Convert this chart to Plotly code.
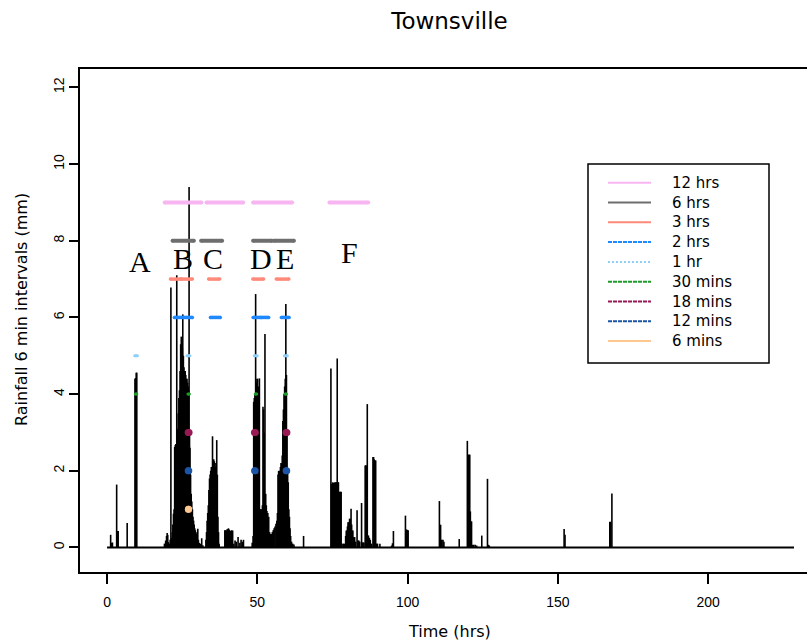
import plotly.graph_objects as go

# ---------------------------------------------------------------------------
# Townsville pluviograph record: 6-minute rainfall totals (non-zero intervals)
# ---------------------------------------------------------------------------
hours = [
    # storm A
    1.2, 1.5, 1.8, 3.2, 3.5, 3.7, 6.7, 9.3, 9.5, 9.7, 9.9,
    # storm B
    19.1, 19.5, 19.8, 20.0, 20.2, 20.4, 20.7, 21.0, 21.25, 21.5, 21.7, 21.9,
    22.1, 22.3, 22.5, 22.7, 22.9, 23.2, 23.35, 23.5, 23.7, 23.9, 24.1, 24.3,
    24.5, 24.7, 24.9, 25.05, 25.2, 25.4, 25.6, 25.8, 26.0, 26.2, 26.4, 26.6,
    26.8, 27.0, 27.15, 27.3, 27.45, 27.6, 27.8, 28.0, 28.2, 28.4, 28.6, 28.8,
    29.0, 29.2, 29.4, 29.6, 29.8, 30.0, 30.2, 30.4, 30.7, 31.0, 31.5, 31.9,
    # storm C
    32.9, 33.1, 33.3, 33.5, 33.7, 33.9, 34.1, 34.3, 34.5, 34.7, 34.9, 35.1,
    35.3, 35.5, 35.7, 35.9, 36.1, 36.3, 36.5, 36.7, 36.9, 37.1, 37.3,
    # showers between C and D
    39.2, 39.4, 39.6, 39.8, 40.0, 40.2, 40.4, 40.6, 40.8, 41.0, 41.2, 41.5,
    41.8, 42.2, 42.6, 43.0, 43.6, 44.2, 44.6, 45.0, 45.4,
    # storm D
    48.3, 48.6, 48.8, 49.0, 49.2, 49.45, 49.7, 49.9, 50.1, 50.3, 50.5, 50.7,
    50.9, 51.1, 51.3, 51.5, 51.7, 51.9, 52.1, 52.3, 52.55, 52.8, 53.0, 53.2,
    53.5, 53.8, 54.1, 54.4, 54.7, 55.0, 55.3, 55.6, 55.9, 56.2,
    # storm E
    56.5, 56.7, 56.9, 57.1, 57.3, 57.5, 57.7, 57.9, 58.1, 58.3, 58.5, 58.7,
    58.9, 59.1, 59.3, 59.5, 59.7, 59.9, 60.1, 60.3, 60.5, 60.7, 60.9, 61.1,
    61.4, 61.8, 62.2, 65.4,
    # storm F
    74.5, 74.7, 74.9, 75.1, 75.3, 75.5, 75.7, 75.9, 76.1, 76.3, 76.6, 76.8,
    77.0, 77.3, 77.5, 77.7, 77.9, 78.2, 78.6, 79.0, 79.4, 79.6, 79.8, 80.0,
    80.2, 80.4, 80.7, 80.9, 81.2, 81.4, 81.6, 81.8, 82.1, 82.4, 82.7, 83.2,
    83.5, 83.8, 84.1, 84.7, 84.9, 85.2, 85.5, 85.9, 86.1, 86.3, 86.6, 86.8,
    87.0, 87.3, 87.6, 88.0, 88.5, 88.7, 88.9, 89.2, 89.4, 89.7, 90.0, 90.8,
    # later showers
    94.7, 95.0, 95.3, 99.3, 99.6, 99.9, 100.2, 110.6, 110.8, 111.0, 111.4,
    111.8, 112.1, 117.2, 119.9, 120.1, 120.3, 120.5, 120.7, 120.9, 121.1,
    121.3, 121.6, 122.0, 122.5, 123.0, 124.7, 126.6, 126.9, 127.2, 152.1,
    152.4, 167.3, 167.6, 168.0,
]

rain_mm = [
    # storm A
    0.33, 0.12, 0.13, 1.64, 0.43, 0.43, 0.64, 4.40, 4.42, 4.56, 4.56,
    # storm B
    0.10, 0.18, 0.30, 0.38, 0.33, 0.14, 0.10, 0.20, 6.78, 0.25, 0.40, 0.60,
    0.88, 1.00, 2.62, 2.67, 2.70, 7.10, 2.75, 3.10, 3.50, 3.90, 4.10, 4.60,
    5.30, 5.50, 5.40, 5.20, 6.08, 5.00, 4.70, 4.60, 4.60, 4.50, 4.40, 4.40,
    4.30, 4.20, 4.10, 9.40, 3.00, 2.60, 1.90, 1.40, 1.20, 1.00, 0.80, 0.70,
    0.60, 0.50, 0.45, 0.40, 0.36, 0.30, 0.49, 0.20, 0.12, 0.10, 0.24, 0.06,
    # storm C
    0.20, 0.40, 0.70, 0.90, 1.10, 1.50, 1.80, 1.90, 2.00, 2.10, 2.05, 2.90,
    2.20, 2.30, 2.25, 2.20, 2.10, 2.20, 2.80, 1.90, 0.80, 0.40, 0.10,
    # showers between C and D
    0.45, 0.45, 0.40, 0.45, 0.48, 0.45, 0.50, 0.47, 0.45, 0.43, 0.18, 0.45,
    0.44, 0.10, 0.18, 0.15, 0.27, 0.12, 0.20, 0.15, 0.20,
    # storm D
    0.12, 0.30, 3.80, 3.90, 4.00, 6.61, 4.30, 4.40, 4.40, 4.20, 3.00, 4.41,
    1.00, 1.00, 0.95, 1.00, 1.10, 3.67, 3.60, 3.00, 5.57, 1.40, 1.10, 0.95,
    0.90, 0.80, 0.40, 0.35, 0.35, 0.40, 0.45, 0.50, 0.55, 0.62,
    # storm E
    0.70, 0.90, 1.90, 2.00, 1.95, 2.00, 2.10, 2.20, 2.20, 2.40, 3.30, 3.60,
    4.00, 4.20, 4.40, 6.35, 4.50, 3.00, 2.00, 1.70, 1.00, 0.80, 0.50, 0.30,
    0.15, 0.10, 0.08, 0.30,
    # storm F
    4.67, 1.66, 1.66, 1.70, 1.68, 1.66, 1.70, 1.65, 1.70, 1.70, 4.93, 1.70,
    1.70, 1.45, 1.45, 1.45, 1.45, 0.10, 0.10, 0.10, 0.30, 0.44, 0.44, 0.55,
    0.66, 0.66, 0.75, 0.75, 1.01, 0.60, 0.44, 0.44, 0.27, 0.27, 0.15, 0.97,
    0.18, 0.18, 0.15, 1.16, 0.13, 0.13, 0.13, 2.14, 2.14, 2.14, 3.74, 0.31,
    0.31, 0.25, 0.20, 0.10, 2.36, 2.36, 2.30, 2.27, 2.27, 0.10, 0.10, 0.10,
    # later showers
    0.05, 0.11, 0.43, 0.83, 0.47, 0.46, 0.45, 1.21, 0.59, 0.59, 0.20,
    0.20, 0.15, 0.22, 2.78, 2.42, 2.42, 2.42, 2.42, 0.94, 0.68,
    0.68, 0.07, 0.07, 0.07, 0.05, 0.31, 1.79, 0.07, 0.05, 0.48,
    0.33, 0.67, 0.67, 1.41,
]

record_start_hr = 0.0
record_end_hr = 228.6

# Design-rainfall exceedance: for each duration, the periods (start, end hrs)
# in which the running total exceeded its threshold, drawn at a fixed level.
durations = ["12 hrs", "6 hrs", "3 hrs", "2 hrs", "1 hr",
             "30 mins", "18 mins", "12 mins", "6 mins"]
duration_level = [9, 8, 7, 6, 5, 4, 3, 2, 1]
exceed_windows = [
    [(19.2, 31.4), (33.1, 45.3), (48.6, 61.6), (74.0, 86.9)],
    [(21.8, 28.9), (31.3, 38.3), (48.6, 54.9), (55.5, 62.2)],
    [(21.1, 24.7), (24.7, 28.4), (33.8, 37.5), (48.5, 52.1), (56.3, 60.5)],
    [(22.4, 25.2), (25.4, 28.4), (34.4, 37.7), (48.6, 51.2), (51.3, 53.8),
     (58.0, 60.6)],
    [(9.2, 10.1), (26.6, 27.6), (49.0, 50.0), (59.0, 60.0)],
    [(9.4, 9.9), (26.9, 27.4), (49.3, 49.8), (59.2, 59.7)],
    [(27.0, 27.3), (49.05, 49.35), (59.55, 59.85)],
    [(27.0, 27.2), (49.1, 49.3), (59.6, 59.8)],
    [(27.05, 27.15)],
]

storm_ids = ["A", "B", "C", "D", "E", "F"]
storm_hr = [10.8, 25.4, 35.4, 51.2, 59.2, 80.6]
storm_level = [7.45, 7.55, 7.55, 7.55, 7.55, 7.7]

x_ticks = [0, 50, 100, 150, 200]
y_ticks = [0, 2, 4, 6, 8, 10, 12]

# ---------------------------------------------------------------------------
# styling
# ---------------------------------------------------------------------------
dur_color = ["#f7b6f2", "#6e6e6e", "#ff8a7a", "#1e88ff", "#8fd0fb",
             "#1f9a2a", "#981a55", "#1c55a5", "#ffc790"]
dur_width = [4, 4, 3.5, 3.5, 3, 3, 7, 7, 7]
legend_dash = ["solid", "solid", "solid", "4px,1px", "2px,2px",
               "4px,1px", "4px,1px", "4px,1px", "solid"]

W, H = 807, 642
L, R, T, B = 80, 0, 69, 70
PW, PH = W - L - R, H - T - B
TEXT_FONT = "DejaVu Sans"
NUM_FONT = "Liberation Sans"


def paper_x(px):
    return (px - L) / PW


def paper_y(py):
    return (T + PH - py) / PH


fig = go.Figure()

# zero line of the record
fig.add_trace(go.Scatter(
    x=[record_start_hr, record_end_hr], y=[0, 0], mode="lines",
    line=dict(color="black", width=2), hoverinfo="skip", showlegend=False))

# 6-minute rainfall as vertical spikes (R type="h")
bx, by = [], []
for t, v in zip(hours, rain_mm):
    bx += [t, t, None]
    by += [0, v, None]
fig.add_trace(go.Scatter(
    x=bx, y=by, mode="lines", line=dict(color="black", width=1.6),
    hoverinfo="skip", showlegend=False))

# exceedance periods for each duration
for name, lev, wins, col, w in zip(durations, duration_level,
                                   exceed_windows, dur_color, dur_width):
    sx, sy = [], []
    for a, b in wins:
        sx += [a, b, None]
        sy += [lev, lev, None]
    fig.add_trace(go.Scatter(
        x=sx, y=sy, mode="lines+markers",
        line=dict(color=col, width=w),
        marker=dict(color=col, size=w, line=dict(width=0)),
        name=name, hoverinfo="skip", showlegend=False))

annotations = []
for sid, sx_, sy_ in zip(storm_ids, storm_hr, storm_level):
    annotations.append(dict(
        x=sx_, y=sy_, xref="x", yref="y", text=sid, showarrow=False,
        font=dict(family="Liberation Serif", size=30, color="black"),
        xanchor="center", yanchor="middle"))

# legend box drawn by hand (R-style)
shapes = [dict(type="rect", xref="paper", yref="paper",
               x0=paper_x(588), x1=paper_x(769),
               y0=paper_y(363), y1=paper_y(164),
               line=dict(color="black", width=1.5), fillcolor="white",
               layer="above")]
row0, row_gap = 182.7, 19.8
for i, (name, col, d) in enumerate(zip(durations, dur_color, legend_dash)):
    yy = paper_y(row0 + i * row_gap)
    shapes.append(dict(type="line", xref="paper", yref="paper",
                       x0=paper_x(608), x1=paper_x(651), y0=yy, y1=yy,
                       line=dict(color=col, width=2, dash=d), layer="above"))
    annotations.append(dict(
        x=paper_x(670), y=yy, xref="paper", yref="paper", text=name,
        showarrow=False, xanchor="left", yanchor="middle",
        font=dict(family=TEXT_FONT, size=15, color="black")))

# axis titles
annotations.append(dict(
    x=paper_x(449.5), y=paper_y(631), xref="paper", yref="paper",
    text="Time (hrs)", showarrow=False, xanchor="center", yanchor="middle",
    font=dict(family=TEXT_FONT, size=16, color="black")))
annotations.append(dict(
    x=paper_x(21), y=paper_y(310), xref="paper", yref="paper",
    text="Rainfall 6 min intervals (mm)", showarrow=False, textangle=-90,
    xanchor="center", yanchor="middle",
    font=dict(family=TEXT_FONT, size=16, color="black")))

fig.update_layout(
    width=W, height=H,
    margin=dict(l=L, r=R, t=T, b=B, pad=0),
    paper_bgcolor="white", plot_bgcolor="white",
    title=dict(text="Townsville", x=449.5 / W, xref="container",
               xanchor="center", y=1 - 21 / H, yref="container",
               yanchor="middle",
               font=dict(family=TEXT_FONT, size=23, color="black")),
    xaxis=dict(range=[-9.0, 232.93], tickvals=x_ticks,
               ticktext=[str(v) for v in x_ticks],
               showgrid=False, zeroline=False, showline=True, mirror=True,
               linecolor="black", linewidth=1.5, ticks="outside",
               ticklen=10, tickwidth=1.5, tickcolor="black",
               ticklabelstandoff=6,
               tickfont=dict(family=NUM_FONT, size=14, color="black")),
    yaxis=dict(range=[-0.64, 12.48], tickvals=y_ticks,
               ticktext=[str(v) for v in y_ticks],
               showgrid=False, zeroline=False, showline=True, mirror=False,
               linecolor="black", linewidth=1.5, ticks="outside",
               ticklen=9, tickwidth=1.5, tickcolor="black", tickangle=-90,
               tickfont=dict(family=NUM_FONT, size=14, color="black")),
    shapes=shapes,
    annotations=annotations,
    showlegend=False,
)

fig.write_html("out.html")
